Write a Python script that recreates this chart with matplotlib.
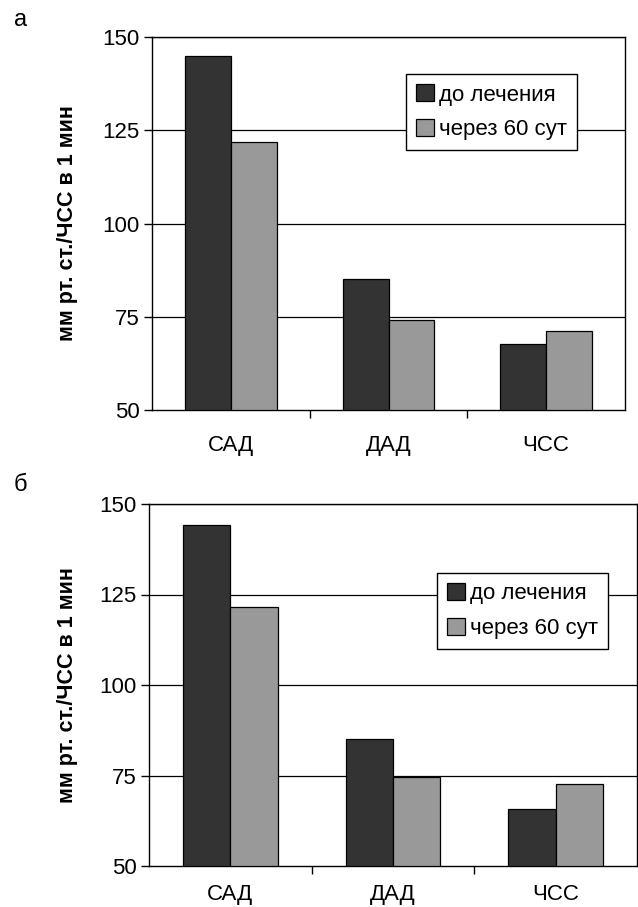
import matplotlib
matplotlib.use('Agg')
import matplotlib.pyplot as plt
import numpy as np

categories = ['САД', 'ДАД', 'ЧСС']
series_names = ['до лечения', 'через 60 сут']
panel_a_before = [145, 85.2, 67.7]
panel_a_after = [121.8, 74.0, 71.2]
panel_b_before = [144.1, 85.2, 65.7]
panel_b_after = [121.5, 74.6, 72.6]
y_ticks = [50, 75, 100, 125, 150]
ylabel = 'мм рт. ст./ЧСС в 1 мин'

plt.rcParams['font.family'] = ['Liberation Sans', 'DejaVu Sans']

fig = plt.figure(figsize=(6.38, 9.07), dpi=100)
W, H = 638, 907


def px_axes(x0, y0, x1, y1):
    return fig.add_axes([x0 / W, 1 - y1 / H, (x1 - x0) / W, (y1 - y0) / H])


panels = [
    (px_axes(152, 37, 625, 410), panel_a_before, panel_a_after, 'а', 20, (0.538, 0.900), 18),
    (px_axes(149, 504, 637, 866), panel_b_before, panel_b_after, 'б', 485, (0.591, 0.809), 13),
]

x = np.arange(len(categories))
width = 0.29
for ax, before, after, letter, ly, leg_pos, xpad in panels:
    ax.bar(x - width / 2, np.array(before) - 50, width, bottom=50, color='#333333',
           edgecolor='black', linewidth=0.9, label=series_names[0], zorder=3)
    ax.bar(x + width / 2, np.array(after) - 50, width, bottom=50, color='#999999',
           edgecolor='black', linewidth=0.9, label=series_names[1], zorder=3)
    ax.set_ylim(50, 150)
    ax.set_xlim(-0.5, 2.5)
    ax.set_yticks(y_ticks)
    ax.set_xticks([0.5, 1.5], minor=False)
    ax.set_xticklabels([])
    ax.set_xticks(x, minor=True)
    ax.set_xticklabels(categories, minor=True, fontsize=16)
    ax.tick_params(axis='x', which='minor', length=0, pad=xpad)
    ax.tick_params(axis='x', which='major', direction='out', length=6, width=1)
    ax.tick_params(axis='y', direction='out', length=6, width=1, labelsize=16, pad=3)
    for yv in y_ticks[1:]:
        ax.axhline(yv, color='black', linewidth=0.9, zorder=1)
    for s in ax.spines.values():
        s.set_linewidth(1.0)
        s.set_color('black')
    leg = ax.legend(loc='upper left', bbox_to_anchor=leg_pos, fontsize=16, frameon=True,
                    fancybox=False, edgecolor='black', framealpha=1, handlelength=0.8,
                    handleheight=0.8, handletextpad=0.2, borderpad=0.45, labelspacing=0.6,
                    borderaxespad=0)
    leg.get_frame().set_linewidth(1.0)
    leg.set_zorder(5)
    fig.text(14 / W, 1 - ly / H, letter, fontsize=17, ha='left', va='center')
    pos = ax.get_position()
    fig.text(68 / W, pos.y0 + pos.height / 2, ylabel, rotation=90, fontsize=15.5,
             fontweight='bold', ha='center', va='center')

fig.savefig('out.png', dpi=100)
plt.close(fig)
